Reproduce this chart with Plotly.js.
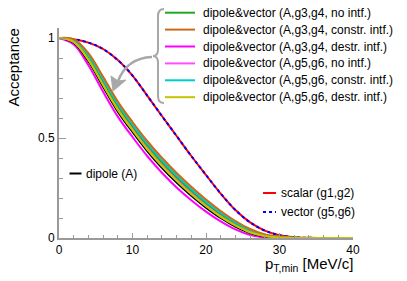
<!DOCTYPE html>
<html><head><meta charset="utf-8">
<script src="https://cdn.plot.ly/plotly-3.0.1.min.js"></script>
<style>html,body{margin:0;padding:0;background:#fff;}#chart{width:407px;height:281px;}</style>
</head><body><div id="chart"></div>
<script>
// ---- data ----
var ptMin      = [0,2,4,6,8,10,12,14,16,18,20,22,24,26,28,30,32,34,36,38,40];
var scalarG1G2 = [1,0.994,0.977,0.945,0.89,0.812,0.712,0.61,0.51,0.41,0.315,0.222,0.14,0.078,0.037,0.014,0.004,0.001,0,0,0];
var vectorG5G6 = [1,0.994,0.977,0.945,0.89,0.812,0.712,0.61,0.51,0.41,0.315,0.222,0.14,0.078,0.037,0.014,0.004,0.001,0,0,0];
var dipoleA    = [1,0.977,0.884,0.756,0.632,0.53,0.435,0.351,0.277,0.211,0.152,0.1,0.057,0.025,0.008,0.002,0,0,0,0,0];
var g3g4NoIntf = [1,0.987,0.907,0.785,0.661,0.559,0.464,0.38,0.305,0.237,0.175,0.12,0.073,0.037,0.014,0.005,0,0,0,0,0];
var g3g4Constr = [1,0.994,0.924,0.806,0.682,0.58,0.485,0.401,0.325,0.256,0.192,0.135,0.085,0.045,0.018,0.007,0.001,0,0,0,0];
var g3g4Destr  = [1,0.968,0.864,0.731,0.607,0.505,0.41,0.326,0.253,0.189,0.132,0.083,0.043,0.015,0.003,0,0,0,0,0,0];
var g5g6NoIntf = [1,0.984,0.9,0.776,0.652,0.55,0.455,0.371,0.296,0.229,0.168,0.114,0.068,0.033,0.012,0.004,0,0,0,0,0];
var g5g6Constr = [1,0.99,0.914,0.794,0.67,0.568,0.473,0.389,0.313,0.245,0.182,0.127,0.078,0.04,0.016,0.006,0.001,0,0,0,0];
var g5g6Destr  = [1,0.981,0.892,0.766,0.642,0.54,0.445,0.361,0.287,0.22,0.16,0.107,0.063,0.029,0.01,0.003,0,0,0,0,0];

var bundleNames = [
  "dipole&vector (A,g3,g4, no intf.)",
  "dipole&vector (A,g3,g4, constr. intf.)",
  "dipole&vector (A,g3,g4, destr. intf.)",
  "dipole&vector (A,g5,g6, no intf.)",
  "dipole&vector (A,g5,g6, constr. intf.)",
  "dipole&vector (A,g5,g6, destr. intf.)"
];
var bundleColors = ["#1faa1f","#cc6a1a","#ff00ff","#ff4dff","#00cccc","#c4c400"];
var bundleData = [g3g4NoIntf,g3g4Constr,g3g4Destr,g5g6NoIntf,g5g6Constr,g5g6Destr];

// ---- geometry helpers (pixel -> paper) ----
var L=59, R=353, T=28, B=238;
function px(x){return (x-L)/(R-L);}
function py(y){return (B-y)/(B-T);}

var FONT = "Liberation Sans, Arial, Helvetica, sans-serif";
var SM = 1;
function line(y,color,name,dash){
  return {x:ptMin,y:y,mode:"lines",line:{color:color,width:2,shape:"spline",smoothing:SM,dash:dash||"solid"},showlegend:false,name:name};
}
var traces = [];
traces.push(line(scalarG1G2,"#ff0000","scalar (g1,g2)"));
traces.push(line(vectorG5G6,"#0000ff","vector (g5,g6)","dot"));
traces.push(line(bundleData[2],bundleColors[2],bundleNames[2]));
traces.push(line(dipoleA,"#000000","dipole (A)"));
[5,3,0,4,1].forEach(function(i){ traces.push(line(bundleData[i],bundleColors[i],bundleNames[i])); });
traces.push(line(bundleData[5],bundleColors[5],bundleNames[5]));

var shapes = [], ann = [];
// main legend
var rowY = [12.7,29.6,46.5,63.4,80.3,97.2];
bundleNames.forEach(function(n,i){
  shapes.push({type:"line",xref:"paper",yref:"paper",x0:px(165),x1:px(195),y0:py(rowY[i]),y1:py(rowY[i]),line:{color:bundleColors[i],width:2}});
  ann.push({xref:"paper",yref:"paper",x:px(201),y:py(rowY[i]),xanchor:"left",yanchor:"middle",text:n,showarrow:false,font:{family:FONT,size:12,color:"#000"}});
});
// dipole legend
shapes.push({type:"line",xref:"paper",yref:"paper",x0:px(69.5),x1:px(81.5),y0:py(173.5),y1:py(173.5),line:{color:"#000",width:2}});
ann.push({xref:"paper",yref:"paper",x:px(84),y:py(173.5),xanchor:"left",yanchor:"middle",text:"dipole (A)",showarrow:false,font:{family:FONT,size:12,color:"#000"}});
// scalar / vector legend
shapes.push({type:"line",xref:"paper",yref:"paper",x0:px(263),x1:px(276),y0:py(193),y1:py(193),line:{color:"#ff0000",width:2}});
ann.push({xref:"paper",yref:"paper",x:px(278.5),y:py(193),xanchor:"left",yanchor:"middle",text:"scalar (g1,g2)",showarrow:false,font:{family:FONT,size:12,color:"#000"}});
shapes.push({type:"line",xref:"paper",yref:"paper",x0:px(263),x1:px(276),y0:py(212),y1:py(212),line:{color:"#0000ff",width:2,dash:"dot"}});
ann.push({xref:"paper",yref:"paper",x:px(278.5),y:py(212),xanchor:"left",yanchor:"middle",text:"vector (g5,g6)",showarrow:false,font:{family:FONT,size:12,color:"#000"}});

// brace
function P(x,y){return px(x)+","+py(y);}
var brace = "M"+P(164,9)+" Q"+P(158,9)+" "+P(158,16)+" L"+P(158,49)+" Q"+P(158,56)+" "+P(153,56)+" Q"+P(158,56)+" "+P(158,63)+" L"+P(158,96)+" Q"+P(158,103)+" "+P(164,103);
shapes.push({type:"path",xref:"paper",yref:"paper",path:brace,line:{color:"#a8a8a8",width:2}});
// curved arrow
var arrow = "M"+P(152,57)+" Q"+P(127,58)+" "+P(118,81);
shapes.push({type:"path",xref:"paper",yref:"paper",path:arrow,line:{color:"#a8a8a8",width:2.5}});
var head = "M"+P(113,91)+" L"+P(111,76)+" L"+P(118,81)+" L"+P(126,80)+" Z";
shapes.push({type:"path",xref:"paper",yref:"paper",path:head,fillcolor:"#a8a8a8",line:{color:"#a8a8a8",width:1}});

// axis titles
ann.push({xref:"paper",yref:"paper",x:px(12.5),y:py(68),xanchor:"center",yanchor:"middle",textangle:-90,text:"Acceptance",showarrow:false,font:{family:FONT,size:15,color:"#000"}});
ann.push({xref:"paper",yref:"paper",x:px(355),y:py(253),xanchor:"right",yanchor:"top",text:"p<sub>T,min</sub> [MeV/c]",showarrow:false,font:{family:FONT,size:15,color:"#000"}});

var layout = {
  width:407,height:281,
  margin:{l:L,r:407-R,t:T,b:281-B,pad:0},
  paper_bgcolor:"#fff",plot_bgcolor:"#fff",
  showlegend:false,
  font:{family:FONT,size:12,color:"#000"},
  xaxis:{range:[0,40],showgrid:false,zeroline:false,showline:true,linecolor:"#9a9a9a",linewidth:2,
    ticks:"inside",ticklen:5,tickwidth:1,tickcolor:"#9a9a9a",tickvals:[0,10,20,30,40],ticktext:["0","10","20","30","40"],
    tickfont:{family:FONT,size:12,color:"#000"},
    minor:{dtick:2,ticks:"inside",ticklen:3,tickcolor:"#9a9a9a",tickwidth:1,showgrid:false},automargin:false},
  yaxis:{range:[0,1.05],showgrid:false,zeroline:false,showline:true,linecolor:"#9a9a9a",linewidth:2,
    ticks:"inside",ticklen:7,tickwidth:1,tickcolor:"#9a9a9a",tickvals:[0,0.5,1],ticktext:["0","0.5","1"],
    tickfont:{family:FONT,size:12,color:"#000"},
    minor:{dtick:0.1,ticks:"inside",ticklen:4,tickcolor:"#9a9a9a",tickwidth:1,showgrid:false},automargin:false},
  shapes:shapes,
  annotations:ann
};
Plotly.newPlot("chart",traces,layout,{staticPlot:true,displayModeBar:false});
</script>
</body></html>
